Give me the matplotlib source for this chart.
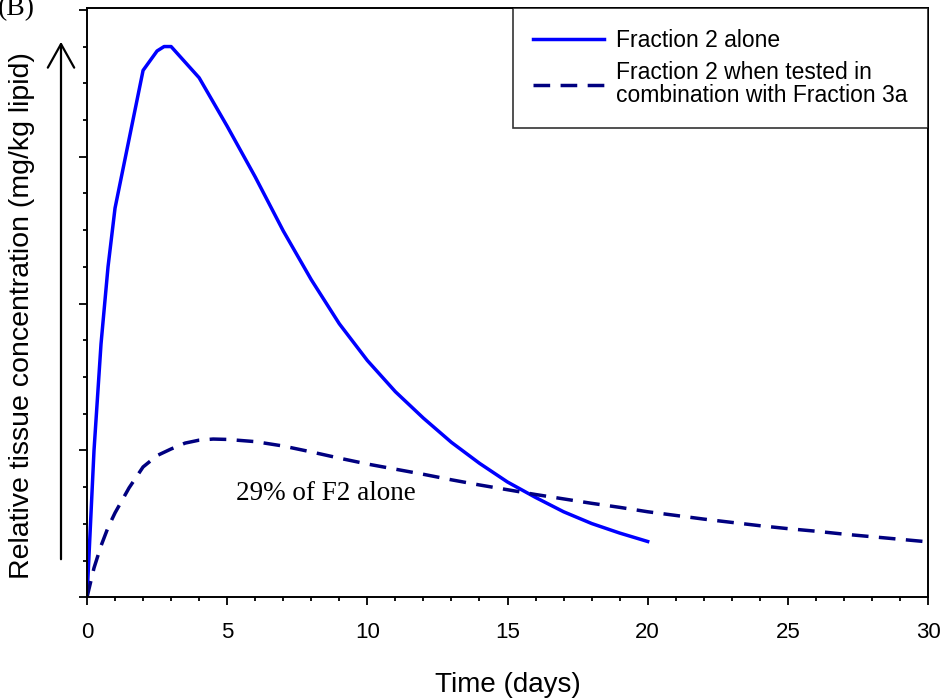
import numpy as np
import matplotlib
matplotlib.use("Agg")
import matplotlib.pyplot as plt
from matplotlib.patches import FancyArrowPatch

# values (relative units, 1 = one minor y tick)
days_alone = [0, 0.25, 0.5, 0.75, 1, 2, 2.5, 2.75, 3, 4, 5, 6, 7, 8, 9, 10,
              11, 12, 13, 14, 15, 16, 17, 18, 19, 20]
conc_alone = [0, 4.0, 6.9, 9.0, 10.6, 14.35, 14.88, 15.0, 15.0, 14.15, 12.83,
              11.45, 9.98, 8.65, 7.45, 6.45, 5.6, 4.88, 4.22, 3.65, 3.14,
              2.72, 2.33, 2.01, 1.75, 1.52]

days_combo = [0, 0.25, 0.5, 0.75, 1, 1.5, 2, 2.5, 3, 3.5, 4, 4.5, 5, 6, 7, 8,
              9, 10, 11, 12, 13, 14, 15, 16, 17, 18, 19, 20, 21, 22, 23, 24,
              25, 26, 27, 28, 29, 30]
conc_combo = [0, 0.8, 1.4, 1.9, 2.3, 2.98, 3.55, 3.86, 4.04, 4.2, 4.28, 4.31,
              4.3, 4.24, 4.12, 3.96, 3.79, 3.63, 3.49, 3.35, 3.2, 3.06, 2.93,
              2.8, 2.68, 2.56, 2.45, 2.33, 2.23, 2.13, 2.04, 1.95, 1.87, 1.8,
              1.72, 1.65, 1.58, 1.51]

label_alone = "Fraction 2 alone"
label_combo = "Fraction 2 when tested in\ncombination with Fraction 3a"
note = "29% of F2 alone"
x_ticks = [0, 5, 10, 15, 20, 25, 30]

plt.rcParams['font.family'] = ['Liberation Sans', 'DejaVu Sans']

fig = plt.figure(figsize=(9.41, 6.98), dpi=100)
ax = fig.add_axes([87 / 941, 1 - 597.3 / 698, (928 - 87) / 941, (597.3 - 8) / 698])

ax.plot(days_alone, conc_alone, color='#0000FF', lw=2.5, label=label_alone)
ax.plot(days_combo, conc_combo, color='#000080', lw=2.5, ls=(0, (4.8, 3)),
        label=label_combo)

ax.set_xlim(0, 30)
ax.set_ylim(0, 16.05)
ax.set_xticks(x_ticks)
ax.set_xticks(np.arange(0, 31, 1), minor=True)
ax.set_yticks(np.arange(0, 17, 4))
ax.set_yticks(np.arange(0, 17, 1), minor=True)
ax.set_yticklabels([])
ax.tick_params(axis='both', which='major', direction='out', length=5.5, width=1.3,
               labelsize=16, pad=12)
ax.tick_params(axis='both', which='minor', direction='out', length=3, width=1.3)
for s in ax.spines.values():
    s.set_linewidth(1.4)

ax.set_xlabel("Time (days)", fontsize=20)
ax.xaxis.set_label_coords(0.5, -0.127)
ax.set_ylabel("Relative tissue concentration (mg/kg lipid)", fontsize=20.5)
ax.yaxis.label.set_va('center')
ax.yaxis.set_label_coords((22 - 87) / 841, (597.3 - 316) / 589.3)

ax.text(5.3, 2.82, note, fontsize=19.5, family=['Liberation Serif', 'DejaVu Serif'],
        ha='left', va='center')

leg = ax.legend(loc='upper right', borderaxespad=0, fontsize=16.5, frameon=True,
                fancybox=False, edgecolor='black', handlelength=3.1,
                handletextpad=0.5, labelspacing=0.4, borderpad=0.9)
leg.get_frame().set_linewidth(1.2)
for t in leg.get_texts():
    t.set_linespacing(1.02)

# up-arrow beside the y axis
arrow = FancyArrowPatch((61, 698 - 562), (61, 698 - 39), transform=None,
                        arrowstyle='->,head_length=17,head_width=9.5',
                        mutation_scale=1, lw=1.6, color='black')
fig.patches.append(arrow)

fig.text(-0.002, 1 - 15 / 698, "(B)", fontsize=20,
         family=['Liberation Serif', 'DejaVu Serif'], ha='left', va='baseline')

fig.savefig("out.png", dpi=100)
